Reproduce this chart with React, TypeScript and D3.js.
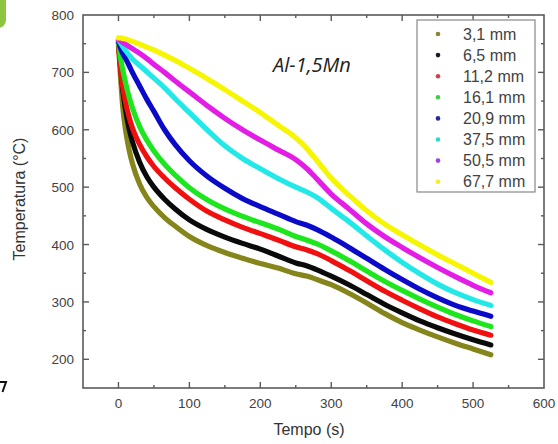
import React from 'react';
import * as d3 from 'd3';

const times = [0, 3, 6, 10, 15, 20, 30, 40, 50, 65, 80, 100, 125, 150, 175, 200, 225, 250, 265, 280, 300, 325, 350, 375, 400, 425, 450, 475, 500, 525];

const t31 = [750, 690, 640, 600, 565, 540, 505, 482, 466, 447, 432, 414, 398, 386, 376, 367, 359, 349, 345, 339, 330, 315, 298, 280, 264, 251, 239, 228, 218, 208];
const t65 = [752, 710, 670, 635, 602, 578, 543, 518, 500, 479, 462, 443, 426, 413, 402, 392, 380, 368, 363, 356, 345, 330, 313, 296, 281, 267, 255, 244, 234, 225];
const t112 = [752, 705, 675, 648, 622, 602, 574, 553, 536, 516, 499, 479, 458, 443, 430, 419, 408, 396, 391, 384, 372, 355, 337, 319, 303, 288, 274, 262, 251, 242];
const t161 = [753, 725, 705, 682, 657, 637, 605, 582, 563, 540, 521, 499, 478, 462, 449, 438, 427, 414, 408, 401, 389, 372, 354, 336, 320, 305, 291, 278, 267, 257];
const t209 = [754, 742, 733, 724, 712, 699, 676, 653, 632, 600, 574, 546, 519, 498, 480, 466, 453, 440, 434, 426, 413, 395, 376, 357, 339, 322, 307, 294, 284, 275];
const t375 = [756, 751, 745, 738, 730, 723, 712, 701, 690, 673, 654, 630, 600, 572, 550, 532, 515, 500, 492, 482, 463, 440, 415, 391, 369, 349, 331, 316, 304, 294];
const t505 = [757, 755, 752, 749, 745, 741, 733, 724, 714, 700, 685, 666, 642, 620, 600, 582, 565, 548, 533, 514, 488, 462, 436, 414, 395, 377, 360, 344, 329, 316];
const t677 = [760, 760, 759, 758, 756, 754, 749, 744, 739, 730, 721, 707, 689, 670, 650, 630, 608, 586, 568, 546, 516, 486, 459, 436, 417, 399, 382, 366, 350, 334];

const seriesNames = ['3,1 mm', '6,5 mm', '11,2 mm', '16,1 mm', '20,9 mm', '37,5 mm', '50,5 mm', '67,7 mm'];
const seriesValues = [t31, t65, t112, t161, t209, t375, t505, t677];
const lineColors = ['#85851c', '#0a0a0a', '#f01010', '#1ee61e', '#0a0ac8', '#22e8e8', '#e31ce6', '#f6f600'];
const legendColors = ['#858535', '#1a1a2a', '#d04050', '#40d040', '#2828a0', '#30d8c8', '#a040e8', '#f0f020'];

const xTickValues = [0, 100, 200, 300, 400, 500, 600];
const yTickValues = [200, 300, 400, 500, 600, 700, 800];

export default function App() {
  const W = 558, H = 444;
  const x = d3.scaleLinear().domain([-50, 600]).range([83, 544]);
  const y = d3.scaleLinear().domain([150, 800]).range([388, 15]);
  const line = d3.line<number>()
    .x((_, i) => x(times[i]))
    .y((d) => y(d))
    .curve(d3.curveMonotoneX);

  const axisColor = '#5a5a5a';
  const textColor = '#424242';
  const xMinor = d3.range(-50, 601, 50);
  const yMinor = d3.range(150, 801, 50);

  return (
    <svg width={W} height={H} style={{ position: 'absolute', left: 0, top: 0, background: '#fff' }}
      fontFamily="Liberation Sans, Arial, sans-serif">
      <rect x={0} y={0} width={W} height={H} fill="#fff" />
      <rect x={-20} y={-20} width={26} height={48} rx={8} fill="#8cc63e" />
      <path d="M0,382 L6,382 L2.5,392" fill="none" stroke="#111" strokeWidth={2} />

      {seriesValues.map((vals, i) => (
        <path key={i} d={line(vals) || ''} fill="none" stroke={lineColors[i]} strokeWidth={5.2}
          strokeLinejoin="round" strokeLinecap="round" />
      ))}

      <rect x={83} y={15} width={461} height={373} fill="none" stroke={axisColor} strokeWidth={1.6} />

      {xMinor.map((v) => {
        const major = v % 100 === 0;
        const len = major ? 6 : 3;
        if (v <= -50 || v >= 600) return null;
        return (
          <g key={'x' + v}>
            <line x1={x(v)} x2={x(v)} y1={388} y2={388 - len} stroke={axisColor} strokeWidth={1.4} />
            <line x1={x(v)} x2={x(v)} y1={15} y2={15 + len} stroke={axisColor} strokeWidth={1.4} />
          </g>
        );
      })}
      {yMinor.map((v) => {
        const major = v % 100 === 0;
        const len = major ? 6 : 3;
        if (v <= 150 || v >= 800) return null;
        return (
          <g key={'y' + v}>
            <line x1={83} x2={83 + len} y1={y(v)} y2={y(v)} stroke={axisColor} strokeWidth={1.4} />
            <line x1={544} x2={544 - len} y1={y(v)} y2={y(v)} stroke={axisColor} strokeWidth={1.4} />
          </g>
        );
      })}
      {xTickValues.map((v) => (
        <text key={'xl' + v} x={x(v)} y={408} textAnchor="middle" fontSize={13.5} fill={textColor}>{v}</text>
      ))}
      {yTickValues.map((v) => (
        <text key={'yl' + v} x={74} y={y(v) + 5} textAnchor="end" fontSize={13.5} fill={textColor}>{v}</text>
      ))}

      <text x={309} y={435} textAnchor="middle" fontSize={16} fill="#333">Tempo (s)</text>
      <text transform="translate(25,199) rotate(-90)" textAnchor="middle" fontSize={16} fill="#333">Temperatura (°C)</text>

      <text x={312} y={72} textAnchor="middle" fontSize={20} fontStyle="italic" fontFamily="Open Sans, sans-serif" fill="#222">Al-1,5Mn</text>

      <rect x={417} y={20} width={118} height={172} fill="#fff" stroke="#888" strokeWidth={1.2} />
      {seriesNames.map((n, i) => (
        <g key={'lg' + i}>
          <circle cx={438} cy={34 + i * 21.1} r={2.3} fill={legendColors[i]} />
          <text x={463} y={34 + i * 21.1 + 5.5} fontSize={16} fill={textColor}>{n}</text>
        </g>
      ))}
    </svg>
  );
}
